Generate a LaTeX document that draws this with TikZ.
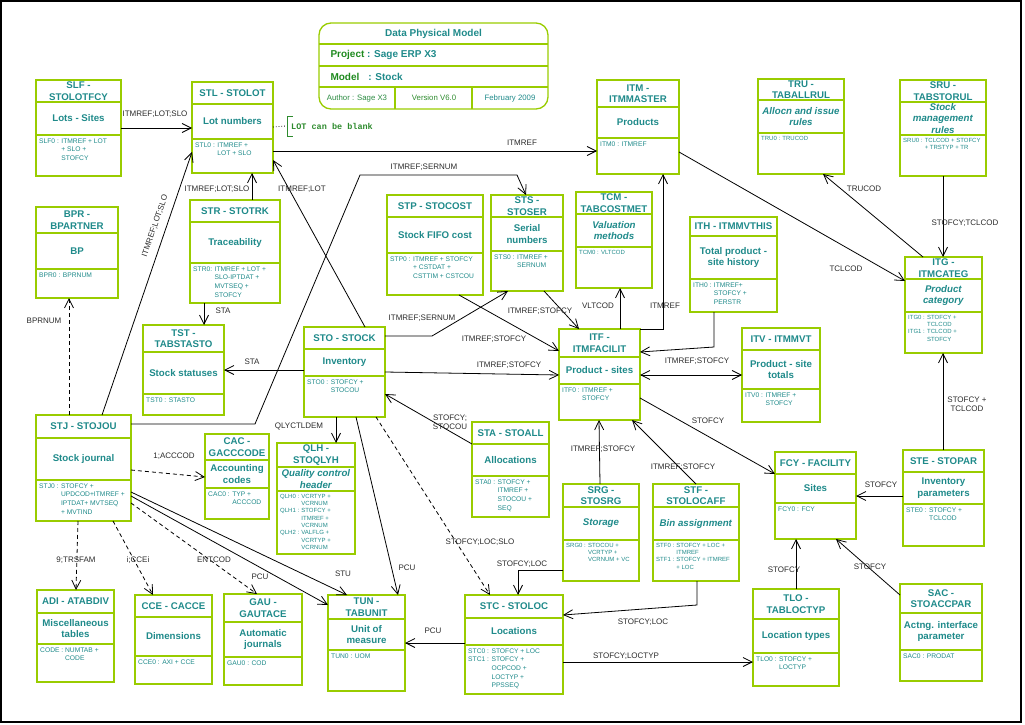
\documentclass[tikz,border=0pt]{standalone}
\usepackage{fontspec}
\setmainfont{Liberation Sans}
\newfontfamily\notefont{Liberation Mono}
\usetikzlibrary{arrows.meta,calc,positioning}
\definecolor{boxc}{HTML}{99CC00}
\definecolor{tealc}{HTML}{1F8A8A}
\definecolor{greenc}{HTML}{1E8A1E}
\definecolor{lblc}{HTML}{2B2B2B}
\definecolor{notec}{HTML}{2E8B2E}
\newcommand{\kfn}{\fontsize{6.7}{8.6}\selectfont}
\newcommand{\kfs}{\fontsize{6}{7.3}\selectfont}
\tikzset{
  tbl/.style={draw=boxc,line width=1.3pt,inner sep=0pt,outer sep=0pt,anchor=north west},
  sep/.style={draw=boxc,line width=1.3pt},
  ttl/.style={text=tealc,font=\bfseries\fontsize{9.7}{11.5}\selectfont,align=center,inner sep=0pt},
  kys/.style={text=tealc,anchor=north west,inner sep=0pt},
  lnk/.style={line width=0.8pt,->},
  dep/.style={lnk,dash pattern=on 4pt off 3pt},
  lbl/.style={text=lblc,font=\fontsize{8}{9.5}\selectfont,inner sep=0pt,align=center},
}

\begin{document}
\begin{tikzpicture}[x=1pt,y=-1pt,>={Straight Barb[length=9pt,width=9pt]}]
  \useasboundingbox (0,0) rectangle (1025,725);
  \draw[line width=1.5pt] (1,1) rectangle (1021,722);

  % title block
  \node[draw=boxc,line width=1.3pt,rounded corners=12pt,anchor=north west,minimum width=229pt,
        minimum height=86pt,inner sep=0pt,outer sep=0pt] (hdr) at (319,23) {};
  \draw[sep] ($(hdr.north west)+(0,21)$) -- ($(hdr.north east)+(0,21)$)
    ($(hdr.north west)+(0,43)$) -- ($(hdr.north east)+(0,43)$)
    ($(hdr.north west)+(0,64)$) -- ($(hdr.north east)+(0,64)$)
    ($(hdr.north west)+(76,64)$) -- ($(hdr.south west)+(76,0)$)
    ($(hdr.north west)+(153,64)$) -- ($(hdr.south west)+(153,0)$);
  \node[text=tealc,font=\bfseries\fontsize{10}{12}\selectfont] (hdr-t) at ($(hdr.north)+(0,11)$) {Data Physical Model};
  \node[text=tealc,font=\bfseries\fontsize{10}{12}\selectfont,anchor=west] (hdr-p) at ($(hdr.north west)+(8,32)$)
    {\textcolor{greenc}{Project} : Sage ERP X3};
  \node[text=tealc,font=\bfseries\fontsize{10}{12}\selectfont,anchor=west] (hdr-m) at ($(hdr.north west)+(8,54)$)
    {\textcolor{greenc}{Model}\hspace{9pt}: Stock};
  \node[text=notec!80!tealc,font=\fontsize{7.8}{9}\selectfont] (hdr-a) at ($(hdr.south west)+(38,-11)$) {Author : Sage X3};
  \node[text=notec,font=\fontsize{7.8}{9}\selectfont] (hdr-v) at ($(hdr.south west)+(115,-11)$) {Version V6.0};
  \node[text=tealc,font=\fontsize{7.8}{9}\selectfont] (hdr-d) at ($(hdr.south west)+(191,-11)$) {February 2009};

  % tables: name / box / separators / key font / title / description / keys
  \foreach \nm/\xa/\ya/\xb/\yb/\ha/\hb/\kf/\ttx/\dsc/\kk in {
      SLF/36/80/121/176/102/135/\kfn/{SLF -\\STOLOTFCY}/{Lots - Sites}/{SLF0 : & ITMREF + LOT\\ & + SLO +\\ & STOFCY},
      STL/192/82/273/173/104/139/\kfn/{STL - STOLOT}/{Lot numbers}/{STL0 : & ITMREF +\\ & LOT + SLO},
      BPR/36/207/118/298/233/269/\kfn/{BPR -\\BPARTNER}/{BP}/{BPR0 : & BPRNUM},
      STR/190/200/280/303/222/263/\kfn/{STR - STOTRK}/{Traceability}/{STR0: & ITMREF + LOT +\\ & SLO-IPTDAT +\\ & MVTSEQ +\\ & STOFCY},
      TST/143/325/224/415/352/394/\kfn/{TST -\\TABSTASTO}/{Stock statuses}/{TST0 : & STASTO},
      STJ/36/415/131/521/438/480/\kfn/{STJ - STOJOU}/{Stock journal}/{STJ0 : & STOFCY +\\ & UPDCOD+ITMREF +\\ & IPTDAT+ MVTSEQ\\ & + MVTIND},
      CAC/205/434/269/519/460/488/\kfn/{CAC -\\GACCCODE}/{Accounting\\codes}/{CAC0 : & TYP +\\ & ACCCOD},
      STO/304/327/385/417/349/376/\kfn/{STO - STOCK}/{Inventory}/{STO0 : & STOFCY +\\ & STOCOU},
      QLH/277/443/355/554/467/491/\kfs/{QLH -\\STOQLYH}/{\textit{Quality control}\\\textit{header}}/{QLH0 : & VCRTYP +\\ & VCRNUM\\ QLH1 : & STOFCY +\\ & ITMREF +\\ & VCRNUM\\ QLH2 : & VALFLG +\\ & VCRTYP +\\ & VCRNUM},
      STP/387/195/483/295/217/253/\kfn/{STP - STOCOST}/{Stock FIFO cost}/{STP0 : & ITMREF + STOFCY\\ & + CSTDAT +\\ & CSTTIM + CSTCOU},
      STS/491/195/563/291/217/251/\kfn/{STS -\\STOSER}/{Serial\\numbers}/{STS0 : & ITMREF +\\ & SERNUM},
      TCM/576/192/652/288/214/247/\kfs/{TCM -\\TABCOSTMET}/{\textit{Valuation}\\\textit{methods}}/{TCM0 : & VLTCOD},
      ITM/597/80/679/174/107/138/\kfn/{ITM -\\ITMMASTER}/{Products}/{ITM0 : & ITMREF},
      ITH/690/217/777/312/236/279/\kfn/{ITH - ITMMVTHIS}/{Total product -\\site history}/{ITH0 : & ITMREF+\\ & STOFCY +\\ & PERSTR},
      TRU/758/79/844/174/100/133/\kfs/{TRU -\\TABALLRUL}/{\textit{Allocn and issue}\\\textit{rules}}/{TRU0 : & TRUCOD},
      SRU/900/80/986/176/102/135/\kfs/{SRU -\\TABSTORUL}/{\textit{Stock}\\\textit{management}\\\textit{rules}}/{SRU0 : & TCLCOD + STOFCY\\ & + TRSTYP + TR},
      ITG/905/257/982/353/279/312/\kfs/{ITG -\\ITMCATEG}/{\textit{Product}\\\textit{category}}/{ITG0 : & STOFCY +\\ & TCLCOD\\ ITG1 : & TCLCOD +\\ & STOFCY},
      ITF/559/329/640/420/357/384/\kfn/{ITF -\\ITMFACILIT}/{Product - sites}/{ITF0 : & ITMREF +\\ & STOFCY},
      ITV/742/328/820/422/350/389/\kfn/{ITV - ITMMVT}/{Product - site\\totals}/{ITV0 : & ITMREF +\\ & STOFCY},
      STA/472/422/549/517/444/476/\kfn/{STA - STOALL}/{Allocations}/{STA0 : & STOFCY +\\ & ITMREF +\\ & STOCOU +\\ & SEQ},
      SRG/563/484/639/581/507/540/\kfs/{SRG -\\STOSRG}/{\textit{Storage}}/{SRG0 : & STOCOU +\\ & VCRTYP +\\ & VCRNUM + VC},
      STF/653/484/739/581/507/540/\kfs/{STF -\\STOLOCAFF}/{\textit{Bin assignment}}/{STF0 : & STOFCY + LOC +\\ & ITMREF\\ STF1 : & STOFCY + ITMREF\\ & + LOC},
      FCY/775/452/856/539/474/503/\kfn/{FCY - FACILITY}/{Sites}/{FCY0 : & FCY},
      STE/903/450/984/546/472/504/\kfn/{STE - STOPAR}/{Inventory\\parameters}/{STE0 : & STOFCY +\\ & TCLCOD},
      ADI/37/590/114/682/613/644/\kfn/{ADI - ATABDIV}/{Miscellaneous\\tables}/{CODE : & NUMTAB +\\ & CODE},
      CCE/135/595/212/684/617/656/\kfn/{CCE - CACCE}/{Dimensions}/{CCE0 : & AXI + CCE},
      GAU/224/594/302/685/622/657/\kfn/{GAU -\\GAUTACE}/{Automatic\\journals}/{GAU0 : & COD},
      TUN/328/595/405/691/619/650/\kfn/{TUN -\\TABUNIT}/{Unit of\\measure}/{TUN0 : & UOM},
      STC/465/595/563/694/618/645/\kfn/{STC - STOLOC}/{Locations}/{STC0 : & STOFCY + LOC\\ STC1 : & STOFCY +\\ & OCPCOD +\\ & LOCTYP +\\ & PPSSEQ},
      TLO/753/589/839/686/619/653/\kfn/{TLO -\\TABLOCTYP}/{Location types}/{TLO0 : & STOFCY +\\ & LOCTYP},
      SAC/900/584/982/681/613/650/\kfn/{SAC -\\STOACCPAR}/{Actng. interface\\parameter}/{SAC0 : & PRODAT}} {
    \node[tbl,minimum width={(\xb-\xa)*1pt},minimum height={(\yb-\ya)*1pt}] (\nm) at (\xa,\ya) {};
    \draw[sep] (\xa,\ha) -- (\xb,\ha) (\xa,\hb) -- (\xb,\hb);
    \node[ttl] (\nm-t) at ({(\xa+\xb)/2},{(\ya+\ha)/2}) {\ttx};
    \node[ttl] (\nm-d) at ({(\xa+\xb)/2},{(\ha+\hb)/2}) {\dsc};
    \node[kys] (\nm-k) at (\xa+3,\hb+2) {\kf\begin{tabular}{@{}l@{ }l@{}}\kk\end{tabular}};
  }

  % note on STL
  \node[text=notec,font=\notefont\bfseries\fontsize{8.5}{10}\selectfont,anchor=west,inner sep=0pt] (blank) at (291,126) {LOT can be blank};
  \draw[notec,line width=1pt] ($(blank.west)+(2,-10)$) -- ++(-6,0) -- ++(0,20) -- ++(6,0);
  \draw[dotted,line width=0.8pt] ($(STL.north east)+(0,45)$) -- ($(blank.west)+(-5,0)$);

  % links
  \draw[lnk] ($(SLF.north east)+(0,48)$) -- ($(STL.north west)+(0,46)$);
  \draw[lnk] ($(STR.north west)+(62,0)$) -- ($(STL.south west)+(60,0)$);
  \draw[lnk] ($(STJ.north west)+(66,0)$) -- ($(STL.north west)+(0,70)$);
  \draw[lnk] ($(STL.north east)+(0,69)$) -- ($(ITM.north west)+(0,71)$);
  \draw[lnk] ($(STO.north west)+(61,0)$) -- ($(STL.south east)+(0,-13)$);
  \draw[lnk] ($(STJ.north east)+(0,9)$) -- ++(124,0) -- (360,175) -- (517,175) -- ($(STS.north west)+(35,0)$);
  \draw[lnk] ($(STO.north east)+(0,9)$) -- ++(47,0) -- ($(STS.south west)+(17,0)$);
  \draw[lnk] ($(STP.south west)+(72,0)$) -- ($(ITF.north west)+(0,22)$);
  \draw[lnk] ($(STS.south west)+(53,0)$) -- ($(ITF.north west)+(20,0)$);
  \draw[lnk] ($(STO.north east)+(0,45)$) -- ($(ITF.north west)+(0,46)$);
  \draw[lnk] ($(ITF.north west)+(61,0)$) -- ($(TCM.south west)+(44,0)$);
  \draw[lnk] (ITF.north east) -| ($(ITM.south west)+(66,0)$);
  \draw[lnk] ($(ITH.south west)+(24,0)$) -- ++(0,35) -- ($(ITF.north east)+(0,23)$);
  \draw[lnk,<->] ($(ITF.north east)+(0,46)$) -- ($(ITV.north west)+(0,47)$);
  \draw[lnk] ($(ITF.north east)+(0,69)$) -- ($(FCY.north west)+(0,22)$);
  \draw[lnk] ($(SRG.north west)+(37,0)$) -- ($(ITF.south west)+(40,0)$);
  \draw[lnk] ($(STF.north west)+(43,0)$) -- ($(ITF.south east)+(-8,0)$);
  \draw[lnk] ($(ITM.north east)+(0,72)$) -- ($(ITG.north west)+(0,24)$);
  \draw[lnk] ($(ITG.north west)+(18,0)$) -- ($(TRU.south west)+(65,0)$);
  \draw[lnk] ($(SRU.south west)+(43,0)$) -- ($(ITG.north west)+(38,0)$);
  \draw[lnk] ($(STE.north west)+(40,0)$) -- ($(ITG.south west)+(38,0)$);
  \draw[lnk] ($(STE.north west)+(0,46)$) -- ($(FCY.north east)+(0,44)$);
  \draw[lnk] ($(TLO.north west)+(43,0)$) -- ($(FCY.south west)+(21,0)$);
  \draw[lnk] ($(SAC.north west)+(0,11)$) -- ($(FCY.south west)+(61,0)$);
  \draw[lnk] ($(STO.north west)+(0,43)$) -- ($(TST.north east)+(0,45)$);
  \draw[lnk] ($(STR.south west)+(14,0)$) -- ($(TST.north west)+(61,0)$);
  \draw[lnk] ($(STO.south west)+(32,0)$) -- ($(QLH.north west)+(59,0)$);
  \draw[lnk] ($(STO.south west)+(52,0)$) -- ($(TUN.north west)+(70,0)$);
  \draw[dep] ($(STO.south west)+(72,0)$) -- ($(STC.north west)+(25,0)$);
  \draw[lnk] ($(STA.north west)+(0,22)$) -- ($(STO.north east)+(0,67)$);
  \draw[lnk] ($(SRG.north west)+(0,86)$) -| ($(STC.north west)+(53,0)$);
  \draw[lnk] ($(STF.south west)+(44,0)$) -- ++(0,24) -- ($(STC.north east)+(0,20)$);
  \draw[lnk] ($(STC.north east)+(0,67)$) -- ($(TLO.north west)+(0,73)$);
  \draw[lnk] ($(STC.north west)+(0,48)$) -- ($(TUN.north east)+(0,48)$);
  \draw[lnk] ($(STJ.north east)+(0,77)$) -- ($(TUN.north west)+(19,0)$);
  \draw[lnk] ($(STJ.north east)+(0,81)$) -- ($(TUN.north west)+(0,10)$);
  \draw[dep] ($(STJ.north east)+(0,55)$) -- ($(CAC.north west)+(0,43)$);
  \draw[dep] ($(STJ.north east)+(0,88)$) -- ($(GAU.north west)+(33,0)$);
  \draw[dep] ($(STJ.south west)+(77,0)$) -- ($(CCE.north west)+(18,0)$);
  \draw[dep] ($(STJ.south west)+(42,0)$) -- ($(ADI.north west)+(39,0)$);
  \draw[dep] ($(STJ.north west)+(33,0)$) -- ($(BPR.south west)+(33,0)$);

  % link labels
  \foreach \x/\y/\rot/\txt [count=\i] in {
      155/114/0/{ITMREF;LOT;SLO}, 217/189/0/{ITMREF;LOT;SLO}, 155/226/71/{ITMREF;LOT;SLO},
      522/143/0/{ITMREF}, 302/189/0/{ITMREF;LOT}, 424/167/0/{ITMREF;SERNUM},
      422/318/0/{ITMREF;SERNUM}, 494/339/0/{ITMREF;STOFCY}, 540/311/0/{ITMREF;STOFCY},
      509/365/0/{ITMREF;STOFCY}, 598/306/0/{VLTCOD}, 665/306/0/{ITMREF},
      697/361/0/{ITMREF;STOFCY}, 708/421/0/{STOFCY}, 603/449/0/{ITMREF;STOFCY},
      683/467/0/{ITMREF;STOFCY}, 846/269/0/{TCLCOD}, 864/189/0/{TRUCOD},
      965/223/0/{STOFCY;TCLCOD}, 967/404/0/{STOFCY +\\TCLCOD}, 881/485/0/{STOFCY},
      784/570/0/{STOFCY}, 870/567/0/{STOFCY}, 252/362/0/{STA}, 223/311/0/{STA},
      299/426/0/{QLYCTLDEM}, 407/568/0/{PCU}, 480/542/0/{STOFCY;LOC;SLO},
      450/422/0/{STOFCY;\\STOCOU}, 522/564/0/{STOFCY;LOC}, 643/622/0/{STOFCY;LOC},
      626/656/0/{STOFCY;LOCTYP}, 433/631/0/{PCU}, 343/574/0/{STU}, 260/577/0/{PCU},
      174/456/0/{1;ACCCOD}, 214/560/0/{ENTCOD}, 138/560/0/{i;CCEi}, 76/560/0/{9;TRSFAM},
      44/321/0/{BPRNUM}} {
    \node[lbl,rotate=\rot] (lab\i) at (\x,\y) {\txt};
  }
\end{tikzpicture}
\end{document}
